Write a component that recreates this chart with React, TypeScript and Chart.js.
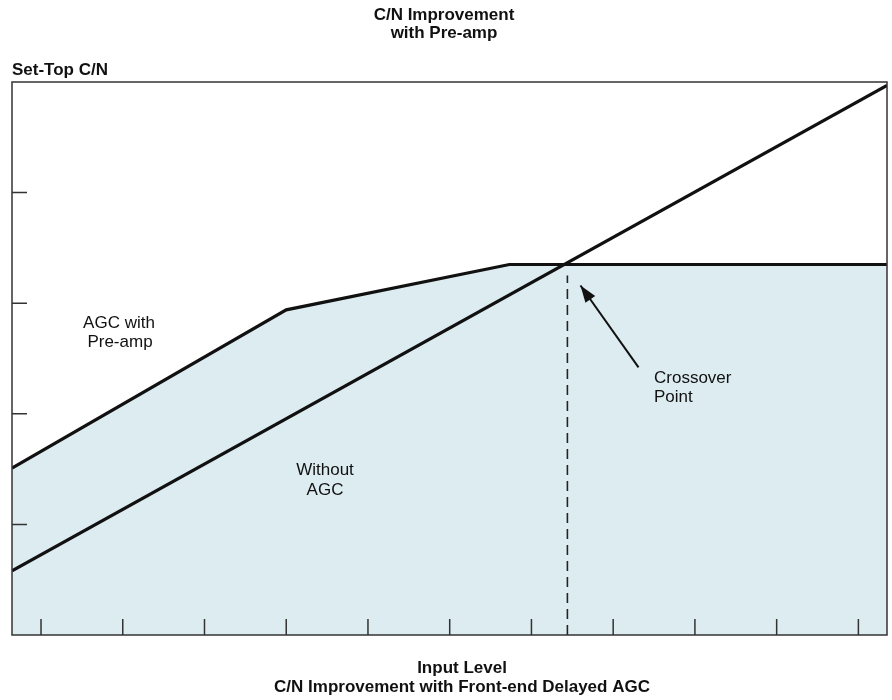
import React, { useEffect, useRef } from 'react';
import { Chart, registerables } from 'chart.js';

Chart.register(...registerables);

// ---- Data (chart units: x = input level ticks, y = set-top C/N ticks) ----
const agcX = [-0.355, 3.0, 5.73, 10.35];
const agcY = [1.51, 2.94, 3.35, 3.35];
const withoutX = [-0.355, 10.35];
const withoutY = [0.58, 4.97];
const crossoverX = [6.44, 6.44];
const crossoverY = [0, 3.25];
const arrowX = [7.31, 6.6];
const arrowY = [2.42, 3.16];
const xTicks = [0, 1, 2, 3, 4, 5, 6, 7, 8, 9, 10];
const yTicks = [1, 2, 3, 4];

const titleLines = ['C/N Improvement', 'with Pre-amp'];
const yAxisTitle = 'Set-Top C/N';
const xAxisTitle = 'Input Level';
const bottomCaption = 'C/N Improvement with Front-end Delayed AGC';
const agcLabel = ['AGC with', 'Pre-amp'];
const withoutLabel = ['Without', 'AGC'];
const crossoverLabel = ['Crossover', 'Point'];

const toPts = (xs: number[], ys: number[]) => xs.map((x, i) => ({ x, y: ys[i] }));

const BOLD = 'bold 17px "Liberation Sans", Arial, sans-serif';
const REG = '17px "Liberation Sans", Arial, sans-serif';

const decorPlugin = {
  id: 'decor',
  afterDatasetsDraw(chart: any) {
    const { ctx, chartArea: a, scales } = chart;
    const xs = scales.x;
    const ys = scales.y;
    ctx.save();
    // arrow head
    const tx = xs.getPixelForValue(arrowX[1]);
    const ty = ys.getPixelForValue(arrowY[1]);
    const fx = xs.getPixelForValue(arrowX[0]);
    const fy = ys.getPixelForValue(arrowY[0]);
    const ang = Math.atan2(ty - fy, tx - fx);
    const L = 17, W = 6;
    ctx.fillStyle = '#111';
    ctx.beginPath();
    ctx.moveTo(tx, ty);
    ctx.lineTo(tx - L * Math.cos(ang) + W * Math.sin(ang), ty - L * Math.sin(ang) - W * Math.cos(ang));
    ctx.lineTo(tx - L * Math.cos(ang) - W * Math.sin(ang), ty - L * Math.sin(ang) + W * Math.cos(ang));
    ctx.closePath();
    ctx.fill();

    // border
    ctx.strokeStyle = '#333';
    ctx.lineWidth = 1.5;
    ctx.strokeRect(a.left, a.top, a.right - a.left, a.bottom - a.top);
    // ticks (inward)
    ctx.beginPath();
    yTicks.forEach((v) => {
      const py = ys.getPixelForValue(v);
      ctx.moveTo(a.left, py);
      ctx.lineTo(a.left + 15, py);
    });
    xTicks.forEach((v) => {
      const px = xs.getPixelForValue(v);
      ctx.moveTo(px, a.bottom);
      ctx.lineTo(px, a.bottom - 16);
    });
    ctx.stroke();

    // texts
    ctx.fillStyle = '#111';
    ctx.textBaseline = 'alphabetic';
    ctx.font = BOLD;
    ctx.textAlign = 'center';
    ctx.fillText(titleLines[0], 444, 20);
    ctx.fillText(titleLines[1], 444, 38);
    ctx.fillText(xAxisTitle, 462, 673);
    ctx.fillText(bottomCaption, 462, 692);
    ctx.textAlign = 'left';
    ctx.fillText(yAxisTitle, a.left, 75);

    ctx.font = REG;
    ctx.textAlign = 'center';
    ctx.fillText(agcLabel[0], 119, 328);
    ctx.fillText(agcLabel[1], 120, 347);
    ctx.fillText(withoutLabel[0], 325, 475);
    ctx.fillText(withoutLabel[1], 325, 495);
    ctx.textAlign = 'left';
    ctx.fillText(crossoverLabel[0], 654, 383);
    ctx.fillText(crossoverLabel[1], 654, 402);
    ctx.restore();
  },
};

export default function App() {
  const ref = useRef<HTMLCanvasElement | null>(null);
  useEffect(() => {
    document.body.style.margin = '0';
    if (!ref.current) return;
    const chart = new Chart(ref.current, {
      type: 'line',
      data: {
        datasets: [
          {
            label: 'AGC with Pre-amp',
            data: toPts(agcX, agcY),
            borderColor: '#111',
            borderWidth: 3.2,
            backgroundColor: '#dcecf1',
            fill: 'start',
            pointRadius: 0,
            tension: 0,
            order: 10,
          },
          {
            label: 'Without AGC',
            data: toPts(withoutX, withoutY),
            borderColor: '#111',
            borderWidth: 3.2,
            fill: false,
            pointRadius: 0,
            tension: 0,
            order: 1,
          },
          {
            label: 'Crossover',
            data: toPts(crossoverX, crossoverY),
            borderColor: '#222',
            borderWidth: 1.6,
            borderDash: [10, 6],
            fill: false,
            pointRadius: 0,
            order: 2,
          },
          {
            label: 'Arrow',
            data: toPts(arrowX, arrowY),
            borderColor: '#111',
            borderWidth: 2,
            fill: false,
            pointRadius: 0,
            order: 0,
          },
        ],
      },
      options: {
        responsive: false,
        animation: false,
        layout: { padding: { left: 12, right: 5, top: 82, bottom: 65 } },
        plugins: { legend: { display: false }, tooltip: { enabled: false }, title: { display: false } },
        scales: {
          x: { type: 'linear', min: -0.355, max: 10.35, display: false },
          y: { type: 'linear', min: 0, max: 5, display: false },
        },
      },
      plugins: [decorPlugin],
    });
    return () => chart.destroy();
  }, []);
  return <canvas ref={ref} width={892} height={700} style={{ display: 'block' }} />;
}
